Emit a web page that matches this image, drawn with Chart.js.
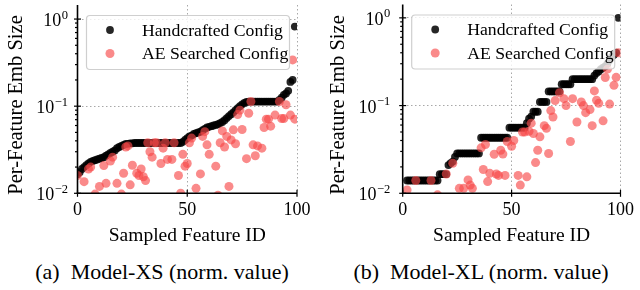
<!DOCTYPE html>
<html>
<head>
<meta charset="utf-8">
<script src="https://cdn.jsdelivr.net/npm/chart.js@4.4.1/dist/chart.umd.min.js"></script>
<style>
  body { margin: 0; background: #fff; }
  #wrap { position: relative; width: 640px; height: 290px; font-family: 'Liberation Serif', 'Times New Roman', serif; }
  canvas { position: absolute; top: 0; }
  .cap { position: absolute; top: 259px; width: 320px; text-align: center; font-size: 22px; line-height: 26px; color: #000; white-space: pre; }
</style>
</head>
<body>
<div id="wrap">
  <canvas id="chartXS" width="320" height="250" style="left:0"></canvas>
  <canvas id="chartXL" width="320" height="250" style="left:320px"></canvas>
  <div class="cap" style="left:2px">(a)  Model-XS (norm. value)</div>
  <div class="cap" style="left:321px">(b)  Model-XL (norm. value)</div>
</div>
<script>
(function () {
  "use strict";

  const SERIF = "'Liberation Serif', 'Times New Roman', serif";

  // nombres de series, ejes y ticks
  const seriesNames = ["Handcrafted Config", "AE Searched Config"];
  const xTitle = "Sampled Feature ID";
  const yTitle = "Per-Feature Emb Size";
  const xTickVals = [0, 50, 100];
  const yTickVals = [0.01, 0.1, 1];
  const yTickExps = ["\u22122", "\u22121", "0"];

  // Model-XS: handcrafted, un valor por feature id 0..99 (ordenado)
  const handXS = [
    0.0165, 0.0175, 0.019, 0.020, 0.021, 0.022, 0.023, 0.0235, 0.024, 0.0245,
    0.025, 0.0255, 0.026, 0.027, 0.028, 0.029, 0.030, 0.031, 0.033, 0.034,
    0.035, 0.036, 0.037, 0.037, 0.0375, 0.0375, 0.0378, 0.0378, 0.0378, 0.0378,
    0.0378, 0.0378, 0.0378, 0.0378, 0.0378, 0.0378, 0.0378, 0.0378, 0.0378, 0.0378,
    0.0378, 0.0378, 0.0378, 0.0378, 0.0378, 0.0378, 0.0378, 0.0378, 0.039, 0.041,
    0.043, 0.045, 0.046, 0.048, 0.049, 0.050, 0.051, 0.053, 0.055, 0.057,
    0.058, 0.059, 0.060, 0.061, 0.062, 0.064, 0.066, 0.069, 0.073, 0.077,
    0.081, 0.085, 0.090, 0.095, 0.100, 0.105, 0.109, 0.112, 0.113, 0.113,
    0.113, 0.113, 0.113, 0.113, 0.113, 0.113, 0.113, 0.113, 0.113, 0.113,
    0.113, 0.113, 0.118, 0.125, 0.135, 0.14, 0.15, 0.19, 0.2, 0.82
  ];
  // Model-XS: AE searched
  const aeXSIds = [
    0, 3, 5, 6, 8, 10, 12, 13, 15, 16, 18, 20, 21, 22, 23, 24, 25, 27, 28, 29,
    30, 31, 32, 33, 34, 35, 36, 38, 39, 40, 41, 43, 44, 46, 47, 48, 49, 50, 51, 52,
    54, 56, 57, 58, 59, 60, 63, 64, 65, 66, 67, 68, 69, 70, 71, 72, 73, 74, 75, 77,
    78, 79, 80, 81, 82, 84, 85, 86, 87, 88, 90, 92, 93, 94, 95, 97, 98, 99
  ];
  const aeXSVals = [
    0.016, 0.0136, 0.019, 0.020, 0.0098, 0.012, 0.0208, 0.013, 0.0235, 0.026,
    0.013, 0.0098, 0.017, 0.034, 0.035, 0.0125, 0.021, 0.017, 0.016, 0.019,
    0.0155, 0.014, 0.038, 0.030, 0.026, 0.038, 0.038, 0.022, 0.033, 0.038,
    0.0245, 0.0245, 0.038, 0.016, 0.010, 0.028, 0.0205, 0.022, 0.038, 0.043,
    0.0114, 0.0167, 0.045, 0.051, 0.036, 0.028, 0.0205, 0.0095, 0.038, 0.052,
    0.034, 0.045, 0.012, 0.041, 0.0535, 0.037, 0.08, 0.09, 0.054, 0.025,
    0.083, 0.113, 0.036, 0.027, 0.035, 0.033, 0.057, 0.071, 0.071, 0.059,
    0.079, 0.113, 0.072, 0.072, 0.104, 0.079, 0.34, 0.071
  ];

  // Model-XL: handcrafted (ordenado)
  const handXL = [
    0.008, 0.008, 0.014, 0.014, 0.014, 0.014, 0.014, 0.014, 0.014, 0.014,
    0.014, 0.014, 0.014, 0.014, 0.014, 0.014, 0.014, 0.0165, 0.0165, 0.0165,
    0.0165, 0.021, 0.022, 0.023, 0.026, 0.0285, 0.0285, 0.0285, 0.0285, 0.0285,
    0.0285, 0.0285, 0.0285, 0.0285, 0.0285, 0.0285, 0.043, 0.043, 0.043, 0.043,
    0.043, 0.043, 0.043, 0.043, 0.043, 0.043, 0.043, 0.043, 0.043, 0.056,
    0.056, 0.056, 0.056, 0.056, 0.056, 0.056, 0.056, 0.063, 0.071, 0.075,
    0.085, 0.085, 0.085, 0.11, 0.11, 0.11, 0.11, 0.145, 0.145, 0.145,
    0.145, 0.145, 0.145, 0.175, 0.175, 0.175, 0.175, 0.175, 0.2, 0.2,
    0.2, 0.2, 0.2, 0.2, 0.2, 0.2, 0.2, 0.2, 0.22, 0.235,
    0.245, 0.26, 0.27, 0.28, 0.3, 0.33, 0.36, 0.38, 0.4, 1.0
  ];
  // Model-XL: AE searched
  const aeXLIds = [
    2, 6, 13, 16, 20, 23, 26, 28, 30, 31, 32, 36, 37, 38, 39, 40, 42, 43, 44, 45,
    46, 47, 48, 50, 51, 53, 54, 55, 56, 57, 58, 59, 60, 61, 62, 63, 65, 66, 67, 68,
    69, 70, 72, 74, 75, 77, 78, 80, 82, 83, 84, 86, 87, 88, 89, 90, 92, 93, 94, 95,
    97, 98, 99
  ];
  const aeXLVals = [
    0.0109, 0.014, 0.014, 0.0096, 0.0166, 0.022, 0.0114, 0.0114, 0.0142, 0.0124,
    0.0114, 0.033, 0.0187, 0.036, 0.0136, 0.0169, 0.0279, 0.0166, 0.016, 0.031,
    0.028, 0.016, 0.039, 0.0344, 0.040, 0.016, 0.0124, 0.050, 0.05, 0.0154,
    0.051, 0.063, 0.048, 0.0224, 0.031, 0.044, 0.059, 0.055, 0.0284, 0.0876,
    0.074, 0.114, 0.14, 0.12, 0.10, 0.039, 0.12, 0.065, 0.11, 0.10,
    0.083, 0.09, 0.059, 0.147, 0.115, 0.106, 0.067, 0.209, 0.26, 0.104,
    0.17, 0.21, 0.4
  ];

  const COLOR_HAND = "rgba(0, 0, 0, 0.85)";
  const COLOR_AE = "rgba(247, 72, 72, 0.64)";
  const GRID = "#a8a8a8";

  const isDecade = (v) => Math.abs(Math.log10(v) - Math.round(Math.log10(v))) < 1e-6;

  // ticks, spines, etiquetas 10^n, titulo y y leyenda dibujados encima de los puntos
  const decoPlugin = {
    id: "deco",
    afterDatasetsDraw(chart, args, o) {
      const { ctx, chartArea: a, scales: { x, y } } = chart;
      ctx.save();
      ctx.strokeStyle = "#000";
      const line = (x1, y1, x2, y2) => { ctx.beginPath(); ctx.moveTo(x1, y1); ctx.lineTo(x2, y2); ctx.stroke(); };

      // spines
      ctx.lineWidth = 1.6;
      line(a.left, a.top, a.left, a.bottom + 0.8);
      line(a.left - 0.8, a.bottom, a.right, a.bottom);

      // ticks
      ctx.lineWidth = 1.2;
      xTickVals.forEach((v) => { const px = x.getPixelForValue(v); line(px, a.bottom - 3.5, px, a.bottom + 3.5); });
      yTickVals.forEach((d) => {
        const py = y.getPixelForValue(d);
        line(a.left - 3.5, py, a.left + 3.5, py);
        for (let m = 2; m <= 9; m++) {
          const v = m * d;
          if (v > y.max) break;
          const pm = y.getPixelForValue(v);
          line(a.left - 2.5, pm, a.left, pm);
        }
      });

      // etiquetas del eje y con exponente
      ctx.fillStyle = "#000";
      ctx.textBaseline = "alphabetic";
      ctx.textAlign = "left";
      yTickVals.forEach((v, i) => {
        const py = y.getPixelForValue(v);
        ctx.font = o.tickSize + "px " + SERIF;
        const bw = ctx.measureText("10").width;
        ctx.font = o.expSize + "px " + SERIF;
        const ew = ctx.measureText(yTickExps[i]).width;
        const bx = a.left - o.labelGap - ew - bw;
        const base = py + o.baseShift;
        ctx.font = o.tickSize + "px " + SERIF;
        ctx.fillText("10", bx, base);
        ctx.font = o.expSize + "px " + SERIF;
        ctx.fillText(yTickExps[i], bx + bw + 0.5, base - o.expRaise);
      });

      // titulo del eje y
      ctx.save();
      ctx.translate(o.yTitleX, o.yTitleY);
      ctx.rotate(-Math.PI / 2);
      ctx.font = o.yTitleSize + "px " + SERIF;
      ctx.textAlign = "center";
      ctx.textBaseline = "middle";
      ctx.fillText(yTitle, 0, 0);
      ctx.restore();

      // leyenda
      const lg = o.legend;
      const bx = a.left + lg.dx, by = a.top + lg.dy;
      ctx.beginPath();
      ctx.roundRect(bx + 0.5, by + 0.5, lg.w, lg.h, 3.5);
      ctx.fillStyle = "rgba(255, 255, 255, 0.8)";
      ctx.fill();
      ctx.strokeStyle = "#cfcfcf";
      ctx.lineWidth = 1.2;
      ctx.stroke();
      ctx.textAlign = "left";
      chart.data.datasets.forEach((ds, i) => {
        const cy = by + lg.rows[i];
        ctx.fillStyle = ds.backgroundColor;
        ctx.beginPath();
        ctx.arc(bx + lg.markerDx, cy, ds.pointRadius, 0, Math.PI * 2);
        ctx.fill();
        ctx.fillStyle = "#000";
        ctx.font = lg.fontSize + "px " + SERIF;
        ctx.textBaseline = "middle";
        ctx.fillText(ds.label, bx + lg.textDx, cy + 1);
      });
      ctx.restore();
    },
  };

  function makeChart(canvasId, hand, aeIds, aeVals, box) {
    const ctx = document.getElementById(canvasId);
    return new Chart(ctx, {
      type: "scatter",
      data: {
        datasets: [
          {
            label: seriesNames[0],
            data: hand.map((v, i) => ({ x: i, y: v })),
            backgroundColor: COLOR_HAND,
            borderWidth: 0,
            pointRadius: 3.9,
            order: 2,
          },
          {
            label: seriesNames[1],
            data: aeIds.map((id, i) => ({ x: id, y: aeVals[i] })),
            backgroundColor: COLOR_AE,
            borderWidth: 0,
            pointRadius: 4.5,
            order: 1,
          },
        ],
      },
      options: {
        responsive: false,
        animation: false,
        devicePixelRatio: 1,
        events: [],
        layout: { padding: { left: 0, right: box.right, top: box.top, bottom: 0 } },
        plugins: {
          legend: { display: false },
          tooltip: { enabled: false },
          deco: {
            tickSize: 18, expSize: 12.5, labelGap: box.labelGap, baseShift: 7, expRaise: 7.5,
            yTitleX: box.titleX, yTitleY: 105, yTitleSize: 20.5,
            legend: { dx: 8.5, dy: 10, w: 203, h: 54, markerDx: 24, textDx: 56, rows: [15, 38.5], fontSize: 17.7 },
          },
        },
        scales: {
          x: {
            type: "linear",
            min: 0,
            max: 100,
            afterBuildTicks: (s) => { s.ticks = xTickVals.map((v) => ({ value: v })); },
            afterFit: (s) => { s.height = 250 - box.bottom; },
            ticks: { color: "#000", font: { family: SERIF, size: 18 }, padding: 6, maxRotation: 0, autoSkip: false },
            grid: {
              drawTicks: false,
              lineWidth: 1,
              color: (c) => (c.tick && c.tick.value > 0 ? GRID : "transparent"),
            },
            border: { display: false, dash: [1.5, 2.5] },
            title: { display: true, text: xTitle, color: "#000", font: { family: SERIF, size: 19.5 }, padding: { top: 0, bottom: 2 } },
          },
          y: {
            type: "logarithmic",
            min: 0.01,
            max: box.ymax,
            afterFit: (s) => { s.width = box.left; },
            ticks: { display: false, autoSkip: false },
            grid: {
              drawTicks: false,
              lineWidth: 1,
              color: (c) => (c.tick && isDecade(c.tick.value) && c.tick.value > 0.011 ? GRID : "transparent"),
            },
            border: { display: false, dash: [1.5, 2.5] },
          },
        },
      },
      plugins: [decoPlugin],
    });
  }

  makeChart("chartXS", handXS, aeXSIds, aeXSVals, { left: 77.5, right: 23, top: 5, bottom: 193.3, ymax: 1.45, labelGap: 10, titleX: 16.5 });
  makeChart("chartXL", handXL, aeXLIds, aeXLVals, { left: 82.7, right: 15, top: 3.3, bottom: 193.3, ymax: 1.42, labelGap: 13, titleX: 18.5 });
})();
</script>
</body>
</html>
